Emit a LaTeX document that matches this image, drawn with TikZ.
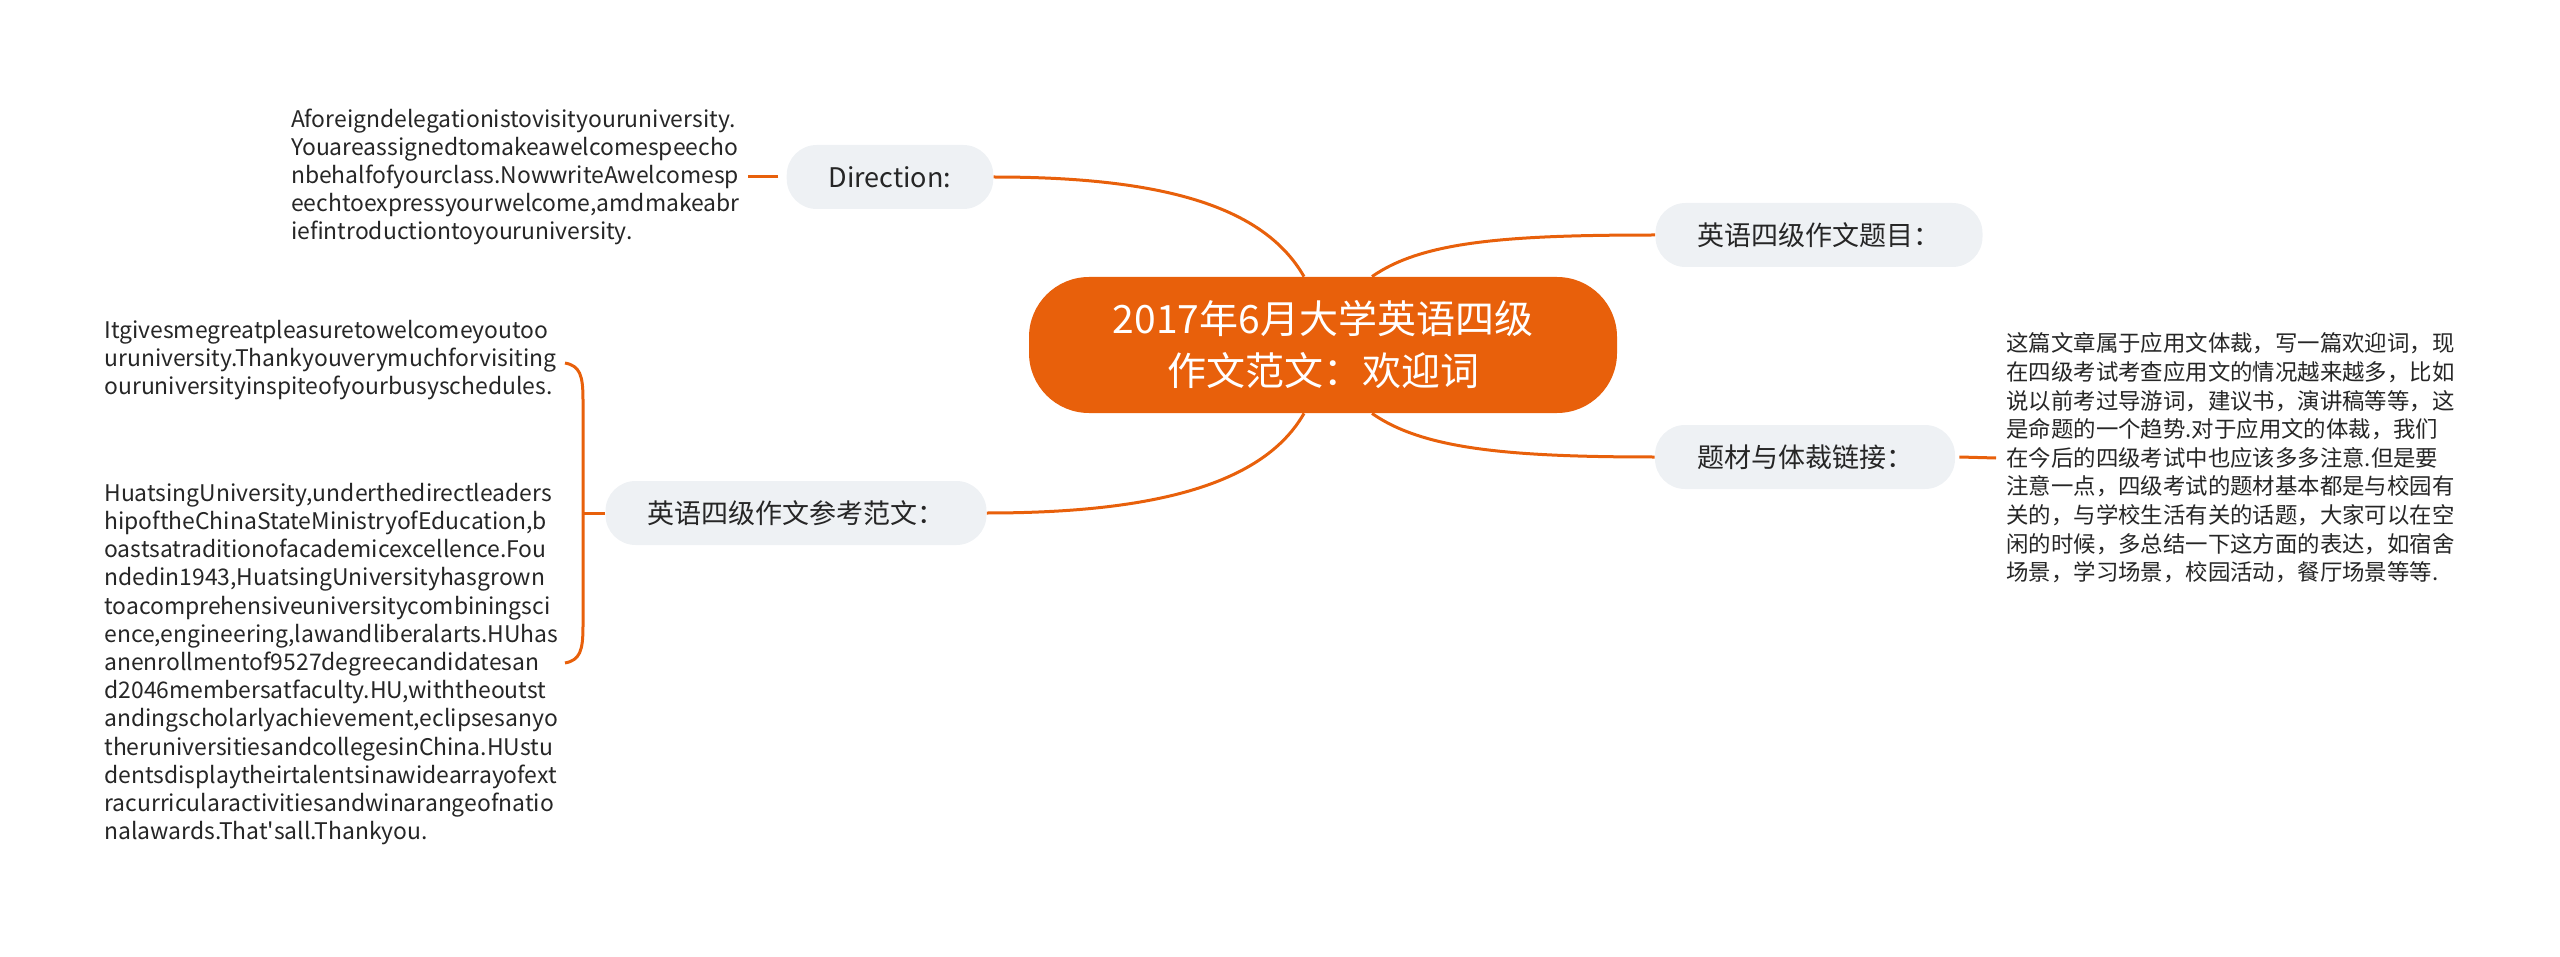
\documentclass[tikz,border=0pt]{standalone}
\usepackage{fontspec}
\setmainfont{Noto Sans CJK SC}
\usetikzlibrary{calc}

\definecolor{mapline}{HTML}{E8600B}
\definecolor{pillgray}{HTML}{EEF1F4}
\definecolor{inkgray}{HTML}{262626}

\tikzset{
  rootbox/.style={fill=mapline,text=white,rounded corners=30pt,minimum width=294pt,minimum height=68pt,align=center,font=\fontsize{19.5}{26}\selectfont},
  pill/.style={fill=pillgray,text=inkgray,rounded corners=15pt,minimum height=32pt,inner xsep=21pt,font=\fontsize{13.5}{16}\selectfont},
  leaf/.style={text=inkgray,align=left,inner sep=0pt,font=\fontsize{11.45}{14.1}\selectfont},
  leafcn/.style={leaf,font=\fontsize{11.2}{14.3}\selectfont},
  link/.style={draw=mapline,line width=1.5pt},
}

\begin{document}
\begin{tikzpicture}[x=0.5pt,y=-0.5pt]

\useasboundingbox (0,0) rectangle (2560,957);

% centre and branches
\node[rootbox] (root) at (1323,345) {2017年6月大学英语四级\\作文范文：欢迎词};
\node[pill] (dir) at (890,177) {Direction:};
\node[pill] (topic) at (1819,235) {英语四级作文题目：};
\node[pill] (genre) at (1805,457) {题材与体裁链接：};
\node[pill] (sample) at (796,513) {英语四级作文参考范文：};

% leaves
\node[leaf,anchor=east] (dirtext) at (740,177) {Aforeigndelegationistovisityouruniversity.\\Youareassignedtomakeawelcomespeecho\\nbehalfofyourclass.NowwriteAwelcomesp\\eechtoexpressyourwelcome,amdmakeabr\\iefintroductiontoyouruniversity.};
\node[leafcn,anchor=west] (genretext) at (2006,458) {这篇文章属于应用文体裁，写一篇欢迎词，现\\在四级考试考查应用文的情况越来越多，比如\\说以前考过导游词，建议书，演讲稿等等，这\\是命题的一个趋势.对于应用文的体裁，我们\\在今后的四级考试中也应该多多注意.但是要\\注意一点，四级考试的题材基本都是与校园有\\关的，与学校生活有关的话题，大家可以在空\\闲的时候，多总结一下这方面的表达，如宿舍\\场景，学习场景，校园活动，餐厅场景等等.};
\node[leaf,anchor=west] (sampleA) at (104,360) {Itgivesmegreatpleasuretowelcomeyoutoo\\uruniversity.Thankyouverymuchforvisiting\\ouruniversityinspiteofyourbusyschedules.};
\node[leaf,anchor=west] (sampleB) at (104,664) {HuatsingUniversity,underthedirectleaders\\hipoftheChinaStateMinistryofEducation,b\\oastsatraditionofacademicexcellence.Fou\\ndedin1943,HuatsingUniversityhasgrown\\toacomprehensiveuniversitycombiningsci\\ence,engineering,lawandliberalarts.HUhas\\anenrollmentof9527degreecandidatesan\\d2046membersatfaculty.HU,withtheoutst\\andingscholarlyachievement,eclipsesanyo\\theruniversitiesandcollegesinChina.HUstu\\dentsdisplaytheirtalentsinawidearrayofext\\racurricularactivitiesandwinarangeofnatio\\nalawards.That\textquotesingle sall.Thankyou.};

\coordinate (brkT) at (565,363);
\coordinate (brkM) at (583,513);
\coordinate (brkB) at (565,663);

% connectors
\draw[link] (dir.east) .. controls +(170,0) and +(-40,-70) .. ([xshift=-9.5pt]root.north);
\draw[link] ([xshift=24.5pt]root.north) .. controls +(50,-35) and +(-150,0) .. (topic.west);
\draw[link] ([xshift=24.5pt]root.south) .. controls +(50,35) and +(-150,0) .. (genre.west);
\draw[link] ([xshift=-9.5pt]root.south) .. controls +(-40,70) and +(170,0) .. (sample.east);
\draw[link] ([xshift=-4pt]dir.west) -- ([xshift=4pt]dirtext.east);
\draw[link] ([xshift=2pt]genre.east) -- ([xshift=-5pt]genretext.west);
\draw[link] (sample.west) -- (brkM);
\draw[link] (brkT) .. controls +(15,3) and +(0,-25) .. (583,400) -- (583,626)
  .. controls +(0,25) and +(15,-3) .. (brkB);

\end{tikzpicture}
\end{document}
